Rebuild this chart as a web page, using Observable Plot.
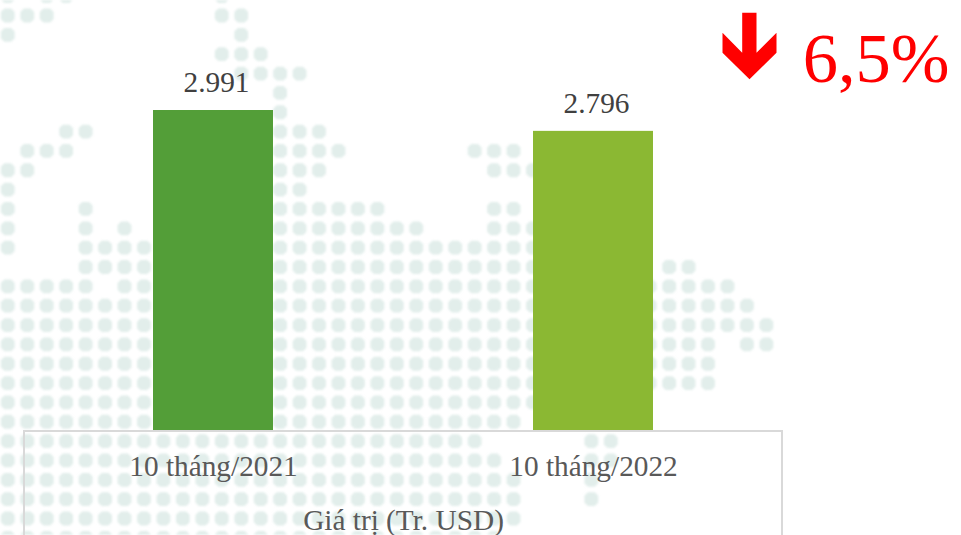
<!DOCTYPE html>
<html>
<head>
<meta charset="utf-8">
<script src="https://cdn.jsdelivr.net/npm/d3@7"></script>
<script src="https://cdn.jsdelivr.net/npm/@observablehq/plot@0.6"></script>
<style>
  html,body{margin:0;padding:0;background:#fff;overflow:hidden}
  #stage{position:relative;width:961px;height:535px;overflow:hidden}
  #stage svg{position:absolute;left:0;top:0;background:transparent}
  #stage svg.map{filter:blur(0.8px)}
  #box{position:absolute;left:23px;top:430px;width:756px;height:200px;border:2px solid #d9d9d9}
</style>
</head>
<body>
<div id="stage"></div>
<script>
const categories = ["10 tháng/2021", "10 tháng/2022"];
const values = [2991, 2796];
const valueLabels = ["2.991", "2.796"];
const barColors = ["#539e38", "#8bb833"];
const changeLabel = "6,5%";
const axisTitle = "Giá trị (Tr. USD)";

// background dot map: first entry = row -1, each entry lists column ranges
const mapRows = [
  "0 2-3 11", "0-2 11-12", "0 12", "11-13", "12-15", "14", "14",
  "3-4 14-16", "1-3 14-17 24-26", "0-1 14-16 25-27", "0 14-15",
  "0 4 14-19 25-26", "0 4 6 14-21 25-27", "0 4-7 14-27",
  "4-7 14-27 34-35", "0-4 6-7 14-37", "0-38", "0-39", "0-36 38-39",
  "0-36", "0-36", "0-27", "0-26", "0-24 30-31", "0-25 30-31",
  "0-26 30", "0-26 30", "0-26", "0-25"
];
const mapCells = mapRows.flatMap((spec, k) =>
  spec.split(" ").flatMap(part => {
    const [a, b = a] = part.split("-").map(Number);
    return d3.range(a, b + 1).map(col => ({col, row: k - 1}));
  })
);

const W = 961, H = 535, serif = "'Liberation Serif','Times New Roman',serif";

const cellShape = {
  draw(ctx) {
    const a = 6.9, b = 3.4;
    ctx.moveTo(-b, -a); ctx.lineTo(b, -a); ctx.lineTo(a, -b); ctx.lineTo(a, b);
    ctx.lineTo(b, a); ctx.lineTo(-b, a); ctx.lineTo(-a, b); ctx.lineTo(-a, -b);
    ctx.closePath();
  }
};

const background = Plot.plot({
  width: W, height: H, margin: 0,
  x: {domain: [0, 39], range: [7.3, 765.9], axis: null},
  y: {domain: [0, 26], range: [15, 518], axis: null},
  marks: [
    Plot.dot(mapCells, {x: "col", y: "row", r: 7, symbol: cellShape, fill: "#e2eeeb", stroke: "none"})
  ]
});
background.classList.add("map");

const table = categories.map((c, i) => ({c, v: values[i], label: valueLabels[i]}));

const arrow = {
  draw(ctx) {
    ctx.moveTo(-7.3, -33.3);
    ctx.lineTo(7, -33.3);
    ctx.lineTo(7, 6.7);
    ctx.lineTo(27, -13.3);
    ctx.lineTo(27, 6.7);
    ctx.lineTo(0, 33.3);
    ctx.lineTo(-27, 6.7);
    ctx.lineTo(-27, -13.3);
    ctx.lineTo(-7.3, 6.7);
    ctx.closePath();
  }
};

const chart = Plot.plot({
  width: W, height: H,
  marginLeft: 23, marginRight: 178, marginTop: 0, marginBottom: 105,
  style: {fontFamily: serif, background: "transparent"},
  x: {domain: categories, paddingInner: 0.6842, paddingOuter: 0.3421, label: null},
  y: {domain: [0, 2991], range: [430, 110], axis: null},
  color: {domain: categories, range: barColors},
  marks: [
    Plot.barY(table, {x: "c", y: "v", fill: "c"}),
    Plot.text(table, {x: "c", y: "v", text: "label", dx: 3, dy: -18.5, lineAnchor: "bottom", fontSize: 29.3, fill: "#404040"}),
    Plot.axisX({anchor: "bottom", tickSize: 0, tickPadding: 25, fontSize: 29.3, color: "#595959", label: null}),
    Plot.text([axisTitle], {frameAnchor: "bottom", dy: 99, lineAnchor: "bottom", fontSize: 29.3, fill: "#595959"}),
    Plot.text([changeLabel], {frameAnchor: "top-right", dx: 166, dy: 81, lineAnchor: "bottom", textAnchor: "end", fontSize: 70.5, fill: "#ff0000"}),
    Plot.dot([0], {frameAnchor: "top-right", dx: -34, dy: 45.5, symbol: arrow, r: 10, fill: "#ff0000", stroke: "none"})
  ]
});

const stage = document.getElementById("stage");
stage.append(background);
const box = document.createElement("div");
box.id = "box";
stage.append(box);
stage.append(chart);
</script>
</body>
</html>
